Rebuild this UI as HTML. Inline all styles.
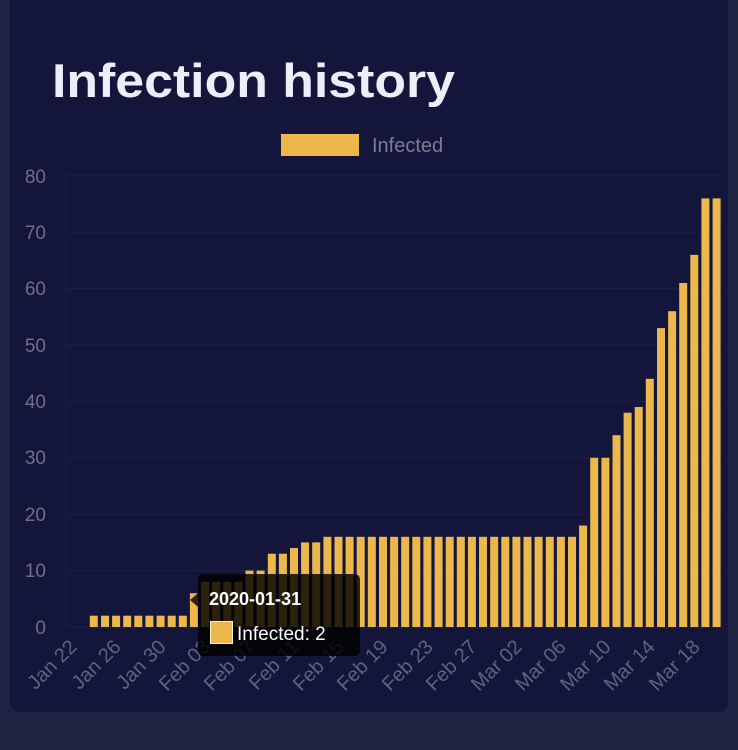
<!DOCTYPE html>
<html><head><meta charset="utf-8"><style>
html,body{margin:0;padding:0;background:#1e213f;}
svg{display:block;font-family:"Liberation Sans",sans-serif;}
</style></head><body>
<svg width="738" height="750" viewBox="0 0 738 750" xmlns="http://www.w3.org/2000/svg">
<rect x="0" y="0" width="738" height="750" fill="#1f2241"/>
<rect x="10" y="-20" width="718" height="732" rx="10" fill="#13163a"/>
<text x="52" y="97" font-size="47" font-weight="bold" fill="#eeeefa" textLength="403" lengthAdjust="spacingAndGlyphs">Infection history</text>
<rect x="281" y="134" width="78" height="22" fill="#ecb84b"/>
<text x="372" y="152" font-size="20" fill="#7b7d93">Infected</text>
<g stroke="#1c1f44" stroke-width="1">
<line x1="66" x2="722" y1="175.8" y2="175.8"/><line x1="66" x2="722" y1="232.2" y2="232.2"/><line x1="66" x2="722" y1="288.6" y2="288.6"/><line x1="66" x2="722" y1="345" y2="345"/><line x1="66" x2="722" y1="401.4" y2="401.4"/><line x1="66" x2="722" y1="457.8" y2="457.8"/><line x1="66" x2="722" y1="514.2" y2="514.2"/><line x1="66" x2="722" y1="570.6" y2="570.6"/><line x1="66" x2="722" y1="627" y2="627"/>
<line x1="66" x2="66" y1="175.8" y2="627"/>
</g>
<g font-size="19" fill="#6e7088" text-anchor="end">
<text x="46" y="183">80</text><text x="46" y="239">70</text><text x="46" y="295">60</text><text x="46" y="352">50</text><text x="46" y="408">40</text><text x="46" y="464">30</text><text x="46" y="521">20</text><text x="46" y="577">10</text><text x="46" y="634">0</text>
</g>
<g fill="#ecb84b">
<rect x="89.8" y="615.7" width="8" height="11.3"/><rect x="101.0" y="615.7" width="8" height="11.3"/><rect x="112.1" y="615.7" width="8" height="11.3"/><rect x="123.2" y="615.7" width="8" height="11.3"/><rect x="134.3" y="615.7" width="8" height="11.3"/><rect x="145.4" y="615.7" width="8" height="11.3"/><rect x="156.6" y="615.7" width="8" height="11.3"/><rect x="167.7" y="615.7" width="8" height="11.3"/><rect x="178.8" y="615.7" width="8" height="11.3"/>
<rect x="189.9" y="593.2" width="8" height="33.8"/>
<rect x="201.0" y="581.9" width="8" height="45.1"/><rect x="212.2" y="581.9" width="8" height="45.1"/><rect x="223.3" y="581.9" width="8" height="45.1"/><rect x="234.4" y="581.9" width="8" height="45.1"/>
<rect x="245.5" y="570.6" width="8" height="56.4"/><rect x="256.6" y="570.6" width="8" height="56.4"/>
<rect x="267.8" y="553.7" width="8" height="73.3"/><rect x="278.9" y="553.7" width="8" height="73.3"/>
<rect x="290.0" y="548" width="8" height="79"/>
<rect x="301.1" y="542.4" width="8" height="84.6"/><rect x="312.2" y="542.4" width="8" height="84.6"/>
<rect x="323.4" y="536.8" width="8" height="90.2"/><rect x="334.5" y="536.8" width="8" height="90.2"/><rect x="345.6" y="536.8" width="8" height="90.2"/><rect x="356.7" y="536.8" width="8" height="90.2"/><rect x="367.8" y="536.8" width="8" height="90.2"/><rect x="379.0" y="536.8" width="8" height="90.2"/><rect x="390.1" y="536.8" width="8" height="90.2"/><rect x="401.2" y="536.8" width="8" height="90.2"/><rect x="412.3" y="536.8" width="8" height="90.2"/><rect x="423.4" y="536.8" width="8" height="90.2"/><rect x="434.6" y="536.8" width="8" height="90.2"/><rect x="445.7" y="536.8" width="8" height="90.2"/><rect x="456.8" y="536.8" width="8" height="90.2"/><rect x="467.9" y="536.8" width="8" height="90.2"/><rect x="479.0" y="536.8" width="8" height="90.2"/><rect x="490.2" y="536.8" width="8" height="90.2"/><rect x="501.3" y="536.8" width="8" height="90.2"/><rect x="512.4" y="536.8" width="8" height="90.2"/><rect x="523.5" y="536.8" width="8" height="90.2"/><rect x="534.6" y="536.8" width="8" height="90.2"/><rect x="545.8" y="536.8" width="8" height="90.2"/><rect x="556.9" y="536.8" width="8" height="90.2"/><rect x="568.0" y="536.8" width="8" height="90.2"/>
<rect x="579.1" y="525.5" width="8" height="101.5"/>
<rect x="590.2" y="457.8" width="8" height="169.2"/><rect x="601.4" y="457.8" width="8" height="169.2"/>
<rect x="612.5" y="435.2" width="8" height="191.8"/>
<rect x="623.6" y="412.7" width="8" height="214.3"/>
<rect x="634.7" y="407" width="8" height="220"/>
<rect x="645.8" y="378.8" width="8" height="248.2"/>
<rect x="657.0" y="328.1" width="8" height="298.9"/>
<rect x="668.1" y="311.2" width="8" height="315.8"/>
<rect x="679.2" y="283" width="8" height="344"/>
<rect x="690.3" y="254.8" width="8" height="372.2"/>
<rect x="701.4" y="198.4" width="8" height="428.6"/><rect x="712.6" y="198.4" width="8" height="428.6"/>
</g>
<g font-size="20" fill="#5f6180" text-anchor="end">
<text transform="translate(78,648) rotate(-45)">Jan 22</text>
<text transform="translate(122,648) rotate(-45)">Jan 26</text>
<text transform="translate(167,648) rotate(-45)">Jan 30</text>
<text transform="translate(211,648) rotate(-45)">Feb 03</text>
<text transform="translate(256,648) rotate(-45)">Feb 07</text>
<text transform="translate(300,648) rotate(-45)">Feb 11</text>
<text transform="translate(345,648) rotate(-45)">Feb 15</text>
<text transform="translate(389,648) rotate(-45)">Feb 19</text>
<text transform="translate(434,648) rotate(-45)">Feb 23</text>
<text transform="translate(478,648) rotate(-45)">Feb 27</text>
<text transform="translate(523,648) rotate(-45)">Mar 02</text>
<text transform="translate(567,648) rotate(-45)">Mar 06</text>
<text transform="translate(612,648) rotate(-45)">Mar 10</text>
<text transform="translate(656,648) rotate(-45)">Mar 14</text>
<text transform="translate(701,648) rotate(-45)">Mar 18</text>
</g>
<g>
<path d="M204 574 H354 Q360 574 360 580 V650 Q360 656 354 656 H204 Q198 656 198 650 V607 L190 600 L198 593 V580 Q198 574 204 574 Z" fill="#000" fill-opacity="0.82"/>
<text x="209" y="605" font-size="18" font-weight="bold" fill="#fff">2020-01-31</text>
<rect x="210.5" y="621.5" width="22" height="22" fill="#ecb84b" stroke="#fff3d0" stroke-width="1"/>
<text x="237" y="640" font-size="19" fill="#fff">Infected: 2</text>
</g>
</svg>
</body></html>
